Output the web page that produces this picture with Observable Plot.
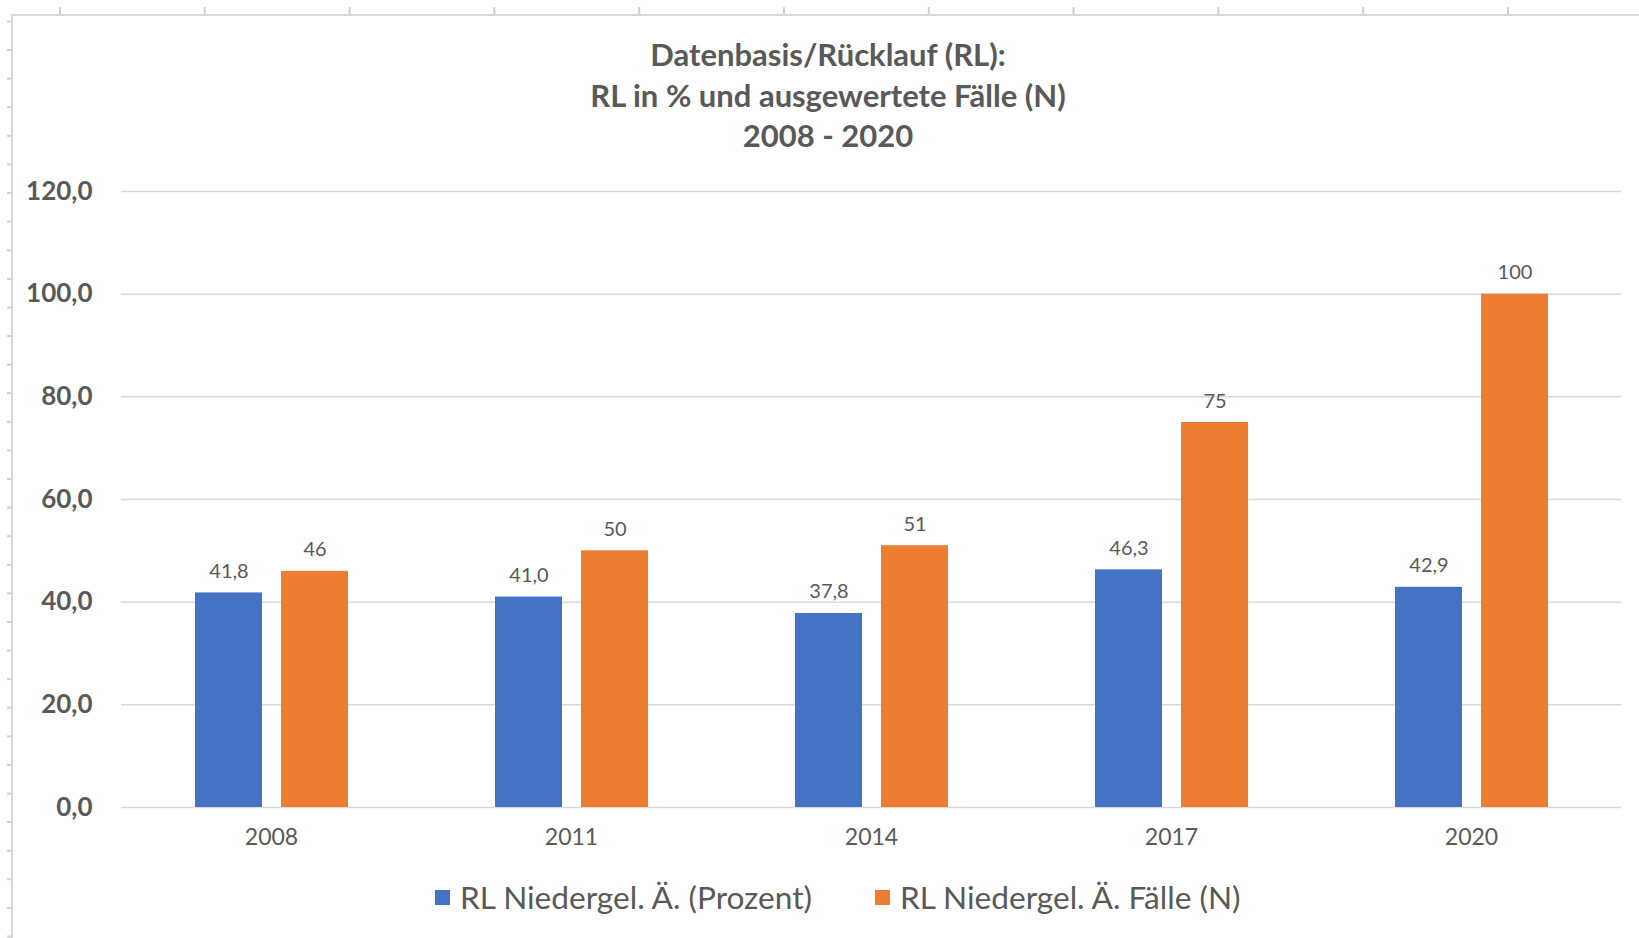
<!DOCTYPE html>
<html>
<head>
<meta charset="utf-8">
<script src="https://cdn.jsdelivr.net/npm/d3@7"></script>
<script src="https://cdn.jsdelivr.net/npm/@observablehq/plot@0.6"></script>
<style>
  html, body { margin: 0; padding: 0; background: #fff; overflow: hidden; width: 1639px; height: 938px; }
  body { position: relative; font-family: Lato, "Open Sans", sans-serif; color: #595959; }
  #frame { position: absolute; left: 11px; top: 14px; width: 1700px; height: 1000px;
           border-top: 2px solid #d9d9d9; border-left: 2px solid #d9d9d9; }
  #topticks { position: absolute; left: 0; top: 7px; width: 1639px; height: 8px;
              background-image: linear-gradient(to right, #d0d0d0 0 1.5px, transparent 1.5px);
              background-size: 144.8px 100%; background-position: 59px 0; background-repeat: repeat-x; }
  #leftticks { position: absolute; left: 7px; top: 0; width: 5px; height: 938px;
               background-image: linear-gradient(to bottom, #d0d0d0 0 1.5px, transparent 1.5px);
               background-size: 100% 28.6px; background-position: 0 20.5px; background-repeat: repeat-y; }
  #title { position: absolute; left: 0; top: 34px; width: 1656px; text-align: center;
           font-weight: bold; font-size: 31px; line-height: 40.5px; color: #595959; }
  #chart { position: absolute; left: 0; top: 160px; }
  #legend { position: absolute; left: 435px; top: 878px; height: 38px; display: flex; align-items: center;
            font-size: 31.6px; color: #595959; }
  .item { display: flex; align-items: center; margin-right: 63px; }
  .sw { width: 15px; height: 15px; margin-right: 10px; }
</style>
</head>
<body>
<div id="topticks"></div>
<div id="leftticks"></div>
<div id="frame"></div>
<div id="title"></div>
<div id="chart"></div>
<div id="legend"></div>
<script>
const titleLines = ["Datenbasis/Rücklauf (RL):", "RL in % und ausgewertete Fälle (N)", "2008 - 2020"];
const years = ["2008", "2011", "2014", "2017", "2020"];
const seriesNames = ["RL Niedergel. Ä. (Prozent)", "RL Niedergel. Ä. Fälle (N)"];
const prozent = [41.8, 41.0, 37.8, 46.3, 42.9];
const faelle = [46, 50, 51, 75, 100];
const colors = ["#4472C4", "#ED7D31"];
const yTicks = [0, 20, 40, 60, 80, 100, 120];

const fmt1 = v => v.toFixed(1).replace(".", ",");

const data = years.flatMap((yr, i) => [
  {year: yr, series: seriesNames[0], value: prozent[i], label: fmt1(prozent[i])},
  {year: yr, series: seriesNames[1], value: faelle[i], label: String(faelle[i])}
]);

document.getElementById("title").innerHTML = titleLines.map(t => `<div>${t}</div>`).join("");

const chart = Plot.plot({
  width: 1639,
  height: 700,
  marginLeft: 119,
  marginRight: 16,
  marginTop: 31,
  marginBottom: 53,
  style: {fontFamily: "Lato, 'Open Sans', sans-serif", background: "transparent", overflow: "visible", color: "#595959"},
  fx: {domain: years, padding: 0, label: null},
  x: {domain: seriesNames, paddingInner: 0.221, paddingOuter: 0.85, axis: null},
  y: {domain: [0, 120], label: null},
  color: {domain: seriesNames, range: colors},
  marks: [
    Plot.gridY(yTicks, {stroke: "#d9d9d9", strokeOpacity: 1, strokeWidth: 1.5}),
    Plot.axisY(yTicks, {tickSize: 0, tickPadding: 29, tickFormat: fmt1, label: null,
                        fontSize: 26, fontWeight: "bold", fill: "#595959"}),
    Plot.axisFx({anchor: "bottom", tickSize: 0, tickPadding: 21, label: null, fontSize: 23, fill: "#595959"}),
    Plot.barY(data, {fx: "year", x: "series", y: "value", fill: "series"}),
    Plot.text(data, {fx: "year", x: "series", y: "value", text: "label", lineAnchor: "bottom",
                     dy: -15, fontSize: 20, fill: "#595959"})
  ]
});
document.getElementById("chart").appendChild(chart);

document.getElementById("legend").innerHTML = seriesNames.map((s, i) =>
  `<div class="item"><div class="sw" style="background:${colors[i]}"></div><span>${s}</span></div>`).join("");
</script>
</body>
</html>
